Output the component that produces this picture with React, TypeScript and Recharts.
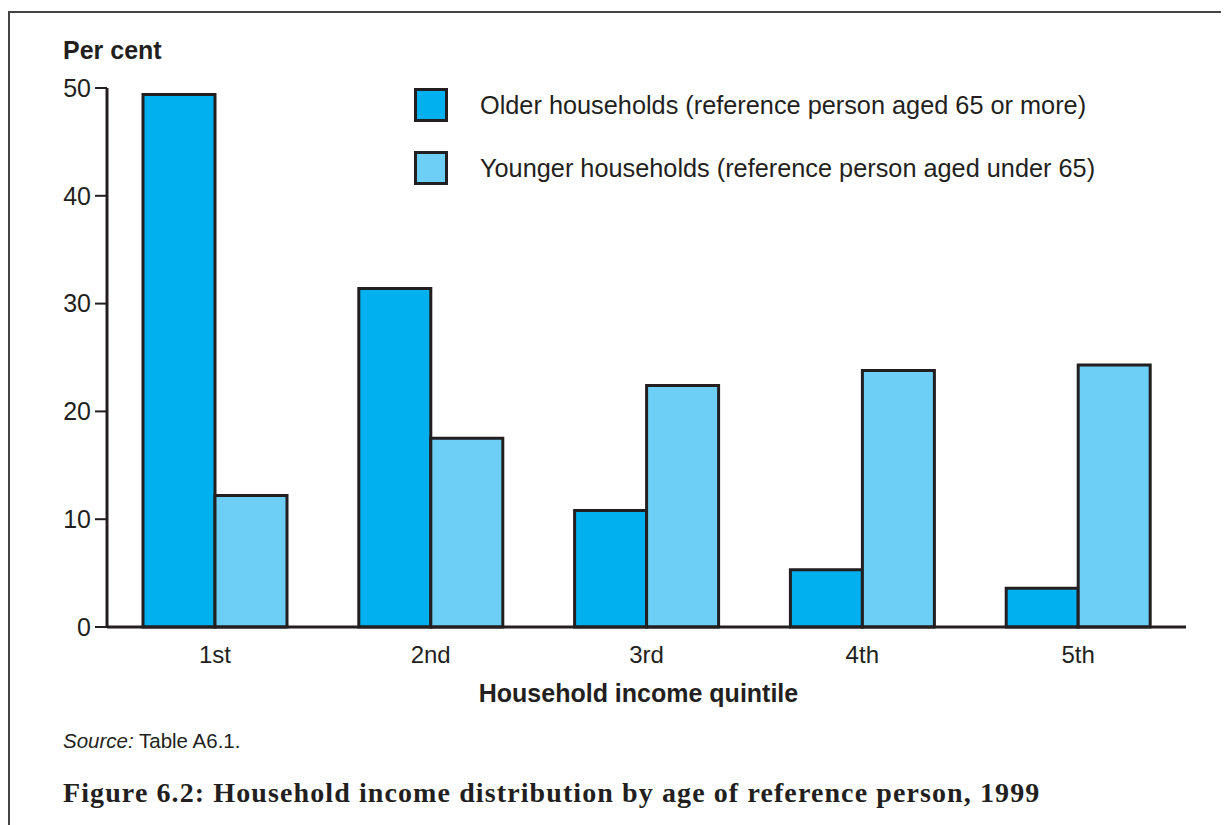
import React from 'react';
import { BarChart, Bar, XAxis, YAxis } from 'recharts';

const quintiles = ['1st', '2nd', '3rd', '4th', '5th'];
const olderValues = [49.4, 31.4, 10.8, 5.3, 3.6];
const youngerValues = [12.2, 17.5, 22.4, 23.8, 24.3];
const yTicks = [0, 10, 20, 30, 40, 50];

const olderLabel = 'Older households (reference person aged 65 or more)';
const youngerLabel = 'Younger households (reference person aged under 65)';

const data = quintiles.map((q, i) => ({ quintile: q, older: olderValues[i], younger: youngerValues[i] }));

const INK = '#231f20';
const SANS = '"Liberation Sans", Arial, Helvetica, sans-serif';

const LegendRow: React.FC<{ color: string; label: string; top: number }> = ({ color, label, top }) => (
  <div style={{ position: 'absolute', left: 406, top, height: 34, display: 'flex', alignItems: 'center' }}>
    <div style={{ width: 28, height: 28, background: color, border: `3px solid ${INK}` }} />
    <span style={{ marginLeft: 32, fontSize: 25.3, color: INK, fontFamily: SANS, whiteSpace: 'nowrap' }}>{label}</span>
  </div>
);

const App: React.FC = () => {
  return (
    <div style={{ position: 'relative', width: 1221, height: 817, overflow: 'hidden', background: '#fff' }}>
      {/* frame: only top and left edges are visible */}
      <div style={{ position: 'absolute', left: 0, top: 3, width: 1400, height: 1000, borderTop: '2px solid #444', borderLeft: '2px solid #444' }} />

      <div style={{ position: 'absolute', left: 55, top: 28, fontSize: 25, fontWeight: 'bold', color: INK, fontFamily: SANS }}>Per cent</div>

      <div style={{ position: 'absolute', left: 0, top: 0 }}>
        <BarChart
          width={1221}
          height={680}
          data={data}
          margin={{ top: 80, right: 43, bottom: 31, left: 0 }}
          barCategoryGap={36}
          barGap={0}
        >
          <XAxis
            dataKey="quintile"
            height={30}
            tickLine={false}
            axisLine={{ stroke: INK, strokeWidth: 3 }}
            tick={{ fill: INK, fontSize: 24, fontFamily: SANS }}
            tickMargin={13}
          />
          <YAxis
            width={99}
            domain={[0, 50]}
            ticks={yTicks}
            interval={0}
            tickSize={12}
            tickMargin={4}
            tickLine={{ stroke: INK, strokeWidth: 2 }}
            axisLine={{ stroke: INK, strokeWidth: 3 }}
            tick={{ fill: INK, fontSize: 25, fontFamily: SANS }}
          />
          <Bar dataKey="older" fill="#00b0ef" stroke={INK} strokeWidth={3} isAnimationActive={false} />
          <Bar dataKey="younger" fill="#6dcff6" stroke={INK} strokeWidth={3} isAnimationActive={false} />
        </BarChart>
      </div>

      <LegendRow color="#00b0ef" label={olderLabel} top={80} />
      <LegendRow color="#6dcff6" label={youngerLabel} top={143} />

      <div style={{ position: 'absolute', left: 0, width: 1261, top: 671, textAlign: 'center', fontSize: 25, fontWeight: 'bold', color: INK, fontFamily: SANS }}>
        Household income quintile
      </div>

      <div style={{ position: 'absolute', left: 55, top: 721, fontSize: 20.5, color: INK, fontFamily: SANS }}>
        <i>Source:</i> Table A6.1.
      </div>

      <div style={{ position: 'absolute', left: 55, top: 769, fontSize: 28, letterSpacing: 1.1, fontWeight: 'bold', color: INK, fontFamily: '"Liberation Serif", "Times New Roman", serif', whiteSpace: 'nowrap' }}>
        Figure 6.2: Household income distribution by age of reference person, 1999
      </div>
    </div>
  );
};

export default App;
